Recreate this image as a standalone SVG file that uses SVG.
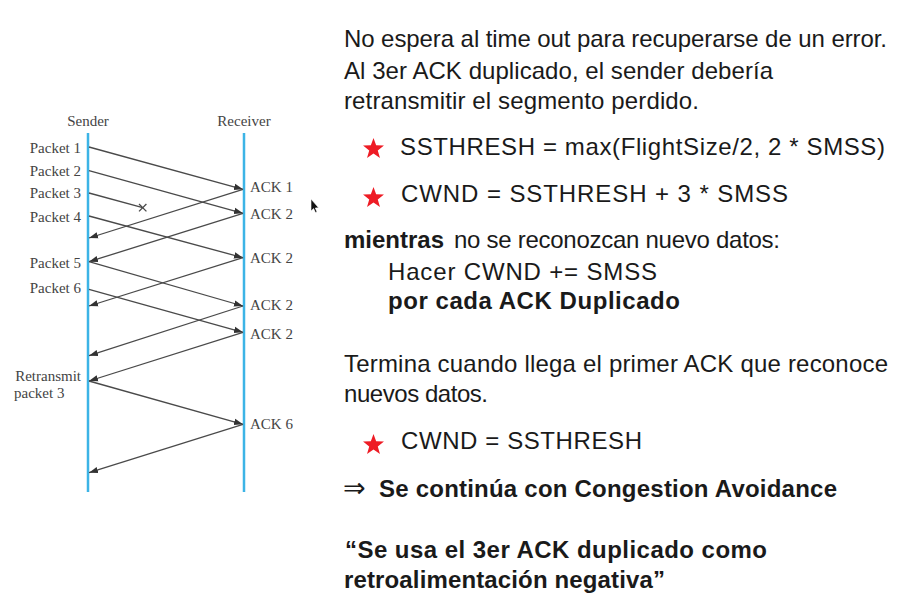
<svg xmlns="http://www.w3.org/2000/svg" width="904" height="609" viewBox="0 0 904 609">
<style>
.t{font-family:"Liberation Sans",Arial,"DejaVu Sans",sans-serif;font-size:24px;fill:#1a1a1a}
.b{font-weight:bold}
.s{font-family:"Liberation Serif","Times New Roman",serif;font-size:15px;fill:#444}
.life{stroke:#3cb4e6;stroke-width:2.5;fill:none}
.msg{stroke:#4a4a4a;stroke-width:1.3;fill:none;marker-end:url(#ah)}
.x{stroke:#4a4a4a;stroke-width:1.3}
.star{fill:#ee1c25}
</style>
<defs>
<marker id="ah" markerUnits="userSpaceOnUse" markerWidth="10" markerHeight="8" refX="9" refY="4" orient="auto">
<path d="M0,0.8 L9,4 L0,7.2 Z" fill="#333"/>
</marker>
<polygon id="starShape" points="0,-11 2.645,-3.64 10.46,-3.4 4.28,1.39 6.47,8.9 0,4.5 -6.47,8.9 -4.28,1.39 -10.46,-3.4 -2.645,-3.64"/>
</defs>
<rect width="904" height="609" fill="#ffffff"/>

<g id="sender">
<text class="s" x="88" y="126" text-anchor="middle">Sender</text>
<line class="life" x1="88" y1="133" x2="88" y2="492"/>
</g>
<g id="receiver">
<text class="s" x="244" y="126" text-anchor="middle">Receiver</text>
<line class="life" x1="244" y1="133" x2="244" y2="492"/>
</g>

<g id="sender-labels">
<text class="s" x="81" y="152.5" text-anchor="end">Packet 1</text>
<text class="s" x="81" y="176" text-anchor="end">Packet 2</text>
<text class="s" x="81" y="198" text-anchor="end">Packet 3</text>
<text class="s" x="81" y="221.5" text-anchor="end">Packet 4</text>
<text class="s" x="81" y="267.5" text-anchor="end">Packet 5</text>
<text class="s" x="81" y="293" text-anchor="end">Packet 6</text>
<text class="s" x="81" y="381" text-anchor="end">Retransmit</text>
<text class="s" x="14" y="397.5">packet 3</text>
</g>
<g id="receiver-labels">
<text class="s" x="250" y="192">ACK 1</text>
<text class="s" x="250" y="218.5">ACK 2</text>
<text class="s" x="250" y="262.5">ACK 2</text>
<text class="s" x="250" y="310">ACK 2</text>
<text class="s" x="250" y="339">ACK 2</text>
<text class="s" x="250" y="429">ACK 6</text>
</g>

<g id="connectors">
<line class="msg" x1="89" y1="147" x2="243" y2="189.3"/>
<line class="msg" x1="89" y1="170.7" x2="243" y2="213.3"/>
<line class="x" x1="89" y1="193" x2="142.7" y2="207.7"/>
<line class="x" x1="139" y1="204" x2="146.4" y2="211.4"/>
<line class="x" x1="139" y1="211.4" x2="146.4" y2="204"/>
<line class="msg" x1="89" y1="216" x2="243" y2="257.7"/>
<line class="msg" x1="243" y1="189.3" x2="89" y2="238"/>
<line class="msg" x1="243" y1="213.3" x2="89" y2="261.7"/>
<line class="msg" x1="89" y1="261.7" x2="243" y2="306"/>
<line class="msg" x1="243" y1="257.7" x2="89" y2="306"/>
<line class="msg" x1="89" y1="289.3" x2="243" y2="332.3"/>
<line class="msg" x1="243" y1="306" x2="89" y2="355.7"/>
<line class="msg" x1="243" y1="332.3" x2="89" y2="381"/>
<line class="msg" x1="89" y1="381" x2="243" y2="424.3"/>
<line class="msg" x1="243" y1="424.3" x2="89" y2="472.7"/>
</g>

<g id="cursor">
<path d="M311,199 L311,211 L313.6,208.6 L315.4,212.6 L317,211.9 L315.3,208 L318.6,207.8 Z" fill="#111" stroke="#fff" stroke-width="0.6"/>
</g>

<g id="intro">
<text class="t" x="344" y="47" textLength="543">No espera al time out para recuperarse de un error.</text>
<text class="t" x="344" y="78.5" textLength="429">Al 3er ACK duplicado, el sender debería</text>
<text class="t" x="344" y="108.5" textLength="355">retransmitir el segmento perdido.</text>
</g>

<g id="bullet-ssthresh">
<use href="#starShape" class="star" transform="translate(373.5,149)"/>
<text class="t" x="400" y="155" textLength="485">SSTHRESH = max(FlightSize/2, 2 * SMSS)</text>
</g>
<g id="bullet-cwnd">
<use href="#starShape" class="star" transform="translate(373.5,198)"/>
<text class="t" x="401" y="201.5" textLength="387">CWND = SSTHRESH + 3 * SMSS</text>
</g>

<g id="loop">
<text class="t b" x="344" y="247.5">mientras</text>
<text class="t" x="454" y="247.5" textLength="326">no se reconozcan nuevo datos:</text>
<text class="t" x="388" y="280" textLength="269">Hacer CWND += SMSS</text>
<text class="t b" x="388" y="309" textLength="292">por cada ACK Duplicado</text>
</g>

<g id="end">
<text class="t" x="344" y="371.5" textLength="544">Termina cuando llega el primer ACK que reconoce</text>
<text class="t" x="344" y="401.5" textLength="144">nuevos datos.</text>
</g>

<g id="bullet-final">
<use href="#starShape" class="star" transform="translate(373.5,445)"/>
<text class="t" x="401" y="449" textLength="241">CWND = SSTHRESH</text>
</g>

<g id="conclusion">
<text x="343" y="497" style="font-family:'DejaVu Sans',sans-serif;font-size:27px;fill:#1a1a1a">⇒</text>
<text class="t b" x="379" y="496.5" textLength="458">Se continúa con Congestion Avoidance</text>
</g>

<g id="quote">
<text class="t b" x="345" y="557.5" textLength="422">“Se usa el 3er ACK duplicado como</text>
<text class="t b" x="344" y="587.5" textLength="321">retroalimentación negativa”</text>
</g>
</svg>
